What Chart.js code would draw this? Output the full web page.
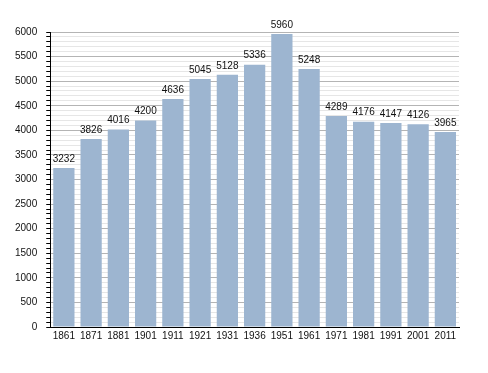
<!DOCTYPE html>
<html>
<head>
<meta charset="utf-8">
<script src="https://cdn.jsdelivr.net/npm/chart.js@4"></script>
<style>
  html, body { margin: 0; padding: 0; background: #fff; }
  #wrap { width: 488px; height: 373px; }
</style>
</head>
<body>
<div id="wrap"><canvas id="popChart" width="488" height="373"></canvas></div>
<script>
const years = ["1861", "1871", "1881", "1901", "1911", "1921", "1931", "1936", "1951", "1961", "1971", "1981", "1991", "2001", "2011"];
const population = [3232, 3826, 4016, 4200, 4636, 5045, 5128, 5336, 5960, 5248, 4289, 4176, 4147, 4126, 3965];

const barColor = "#9db5d0";
const textColor = "#111";

// values written above each bar
const valueLabels = {
  id: "valueLabels",
  afterDatasetsDraw(chart) {
    const ctx = chart.ctx;
    const meta = chart.getDatasetMeta(0);
    ctx.save();
    ctx.font = "10px 'Liberation Sans', Arial, sans-serif";
    ctx.fillStyle = textColor;
    ctx.textAlign = "center";
    ctx.textBaseline = "bottom";
    meta.data.forEach((bar, i) => {
      ctx.fillText(population[i], bar.x, bar.y - 4);
    });
    ctx.restore();
  }
};

const ctx = document.getElementById("popChart").getContext("2d");
new Chart(ctx, {
  type: "bar",
  data: {
    labels: years,
    datasets: [{
      data: population,
      backgroundColor: barColor,
      borderWidth: 0,
      barPercentage: 0.78,
      categoryPercentage: 1.0
    }]
  },
  options: {
    responsive: false,
    animation: false,
    layout: { padding: { top: 32, right: 29, bottom: 28, left: 6 } },
    plugins: {
      legend: { display: false },
      tooltip: { enabled: false }
    },
    scales: {
      x: {
        grid: { drawOnChartArea: false, drawTicks: false },
        border: { display: true, color: "#000", width: 1 },
        ticks: {
          color: textColor,
          padding: 3,
          maxRotation: 0,
          autoSkip: false,
          font: { family: "'Liberation Sans', Arial, sans-serif", size: 10 }
        }
      },
      y: {
        min: 0,
        max: 6000,
        border: { display: true, color: "#000", width: 1 },
        grid: {
          color: c => (c.tick && c.tick.value % 500 === 0) ? "#b4b4b4" : "#e6e6e6",
          tickColor: "#000",
          tickLength: 4
        },
        ticks: {
          stepSize: 100,
          autoSkip: false,
          color: textColor,
          padding: 9,
          font: { family: "'Liberation Sans', Arial, sans-serif", size: 10 },
          callback: v => (v % 500 === 0 ? v : "")
        }
      }
    }
  },
  plugins: [valueLabels]
});
</script>
</body>
</html>
